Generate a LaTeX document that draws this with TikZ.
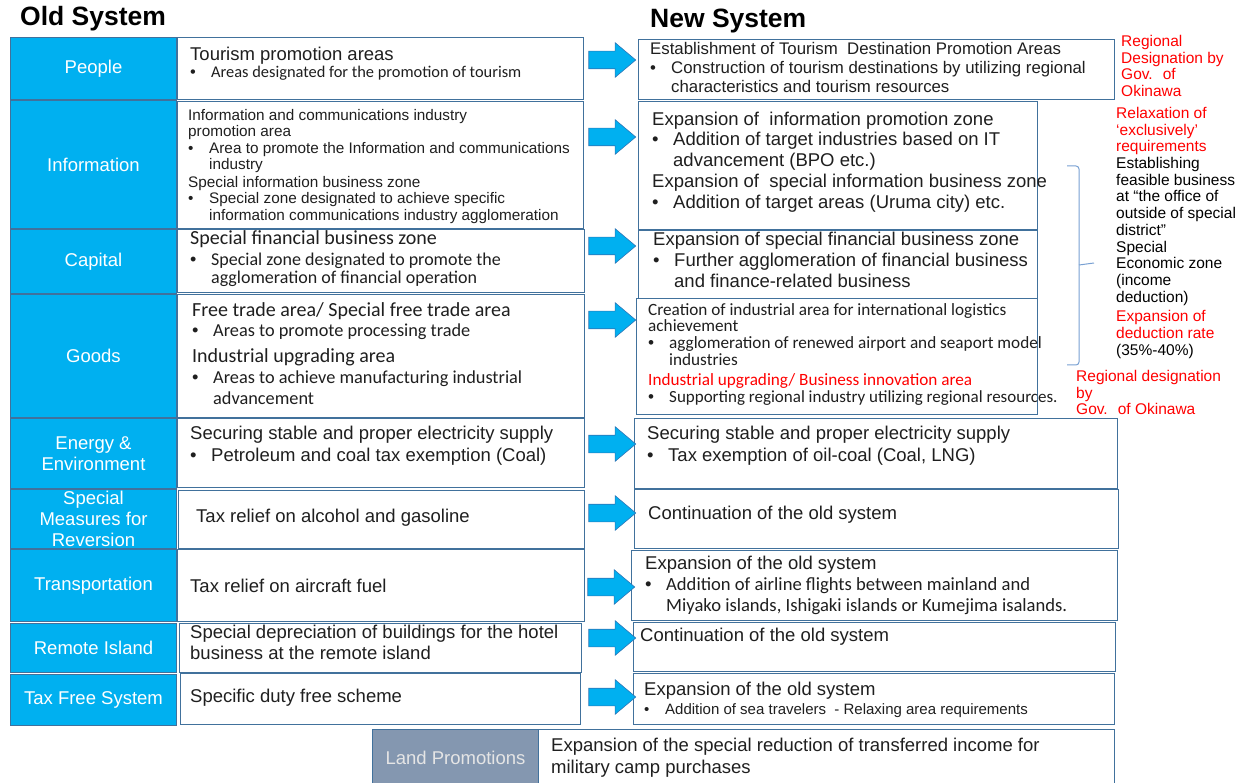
\documentclass[tikz,border=0pt]{standalone}
\usepackage{fontspec}
\setmainfont{Liberation Sans}
\newfontfamily\calfont{Carlito}
\newfontfamily\arialfont{Liberation Sans}
\usetikzlibrary{shapes.arrows}

\definecolor{catblue}{RGB}{0,176,240}
\definecolor{boxline}{RGB}{65,113,156}
\definecolor{arrowline}{RGB}{46,117,182}
\definecolor{landgray}{RGB}{132,151,176}
\definecolor{notered}{RGB}{255,0,0}
\definecolor{bracecol}{RGB}{120,160,210}

\newcommand{\fs}[2]{\fontsize{#1}{#2}\selectfont}
\newcommand{\bl}{\makebox[21pt][l]{\arialfont\textbullet}}
\newcommand{\ct}{\hspace*{21pt}}

\tikzstyle{catbox} = [draw=boxline, fill=catblue, text=white, align=center, inner sep=0pt, line width=1pt, anchor=north west, font=\fs{18.5}{21}]
\tikzstyle{landbox} = [catbox, fill=landgray, text=white!90!black]
\tikzstyle{descbox} = [draw=boxline, fill=white, inner sep=0pt, line width=1pt, anchor=north west]
\tikzstyle{desctext} = [anchor=north west, align=left, inner sep=0pt, text=black!88]
\tikzstyle{bigarrow} = [single arrow, draw=arrowline, fill=catblue, line width=0.6pt, inner sep=8.5pt, minimum height=47pt, single arrow head extend=8.5pt, single arrow tip angle=80]
\tikzstyle{note} = [anchor=north west, align=left, inner sep=0pt, font=\fs{15.5}{16.7}]

\begin{document}
\begin{tikzpicture}[x=1pt, y=-1pt]
    \useasboundingbox (0,0) rectangle (1245,783);
    \clip (0,0) rectangle (1245,783);

    % Titles
    \node[anchor=west, inner sep=0pt, font=\bfseries\fs{26.5}{30}] (OT) at (20,19) {Old System};
    \node[anchor=west, inner sep=0pt, font=\bfseries\fs{26.5}{30}] (NT) at (650,21) {New System};

    % Category boxes
    \node[catbox, minimum width=166pt, minimum height=62pt] (P) at (10,37) {People};
    \node[catbox, minimum width=166pt, minimum height=128pt] (I) at (10,100) {Information};
    \node[catbox, minimum width=166pt, minimum height=64pt] (C) at (10,229) {Capital};
    \node[catbox, minimum width=166pt, minimum height=123pt] (G) at (10,294) {Goods};
    \node[catbox, minimum width=166pt, minimum height=70pt] (E) at (10,418) {Energy \&\\ Environment};
    \node[catbox, minimum width=166pt, minimum height=59pt] (R) at (10,489) {Special\\ Measures for\\ Reversion};
    \node[catbox, minimum width=166pt, minimum height=72pt] (T) at (10,549) {Transportation};
    \node[catbox, minimum width=166pt, minimum height=49pt] (RI) at (10,623) {Remote Island};
    \node[catbox, minimum width=166pt, minimum height=51pt] (TF) at (10,674) {Tax Free System};
    \node[landbox, minimum width=166pt, minimum height=56pt] (L) at (372,729) {Land Promotions};

    % Old system boxes
    \node[descbox, minimum width=406pt, minimum height=62pt] (PO) at (177,37) {};
    \node[descbox, minimum width=406pt, minimum height=127pt] (IO) at (177,101) {};
    \node[descbox, minimum width=407pt, minimum height=63pt] (CO) at (177,229) {};
    \node[descbox, minimum width=407pt, minimum height=123pt] (GO) at (177,294) {};
    \node[descbox, minimum width=407pt, minimum height=69pt] (EO) at (177,418) {};
    \node[descbox, minimum width=406pt, minimum height=58pt] (RO) at (178,490) {};
    \node[descbox, minimum width=407pt, minimum height=72pt] (TO) at (177,549) {};
    \node[descbox, minimum width=402pt, minimum height=49pt] (RIO) at (179,623) {};
    \node[descbox, minimum width=400pt, minimum height=51pt] (TFO) at (180,673) {};
    \node[descbox, minimum width=576pt, minimum height=62pt] (LD) at (538,729) {};

    % New system boxes
    \node[descbox, minimum width=476pt, minimum height=60pt] (PN) at (638,39) {};
    \node[descbox, minimum width=399pt, minimum height=128pt] (IN) at (638,101) {};
    \node[descbox, minimum width=399pt, minimum height=68pt] (CN) at (638,230) {};
    \node[descbox, minimum width=401pt, minimum height=116pt] (GN) at (636,298) {};
    \node[descbox, minimum width=483pt, minimum height=70pt] (EN) at (634,418) {};
    \node[descbox, minimum width=484pt, minimum height=59pt] (RN) at (634,489) {};
    \node[descbox, minimum width=486pt, minimum height=70pt] (TN) at (631,550) {};
    \node[descbox, minimum width=482pt, minimum height=49pt] (RIN) at (633,622) {};
    \node[descbox, minimum width=481pt, minimum height=51pt] (TFN) at (633,673) {};

    % Arrows
    \node[bigarrow] (A1) at (607,60) {};
    \node[bigarrow] (A2) at (607,137) {};
    \node[bigarrow] (A3) at (607,246) {};
    \node[bigarrow] (A4) at (607,320) {};
    \node[bigarrow] (A5) at (607,444) {};
    \node[bigarrow] (A6) at (607,513) {};
    \node[bigarrow] (A7) at (606,587) {};
    \node[bigarrow] (A8) at (607,638) {};
    \node[bigarrow] (A9) at (607,697) {};

    % Old system texts
    \node[desctext, font=\fs{18.5}{17}] (POt) at (190,46.5) {Tourism promotion areas\\
      {\calfont\fs{16.4}{17}\bl Areas designated for the promotion of tourism}};
    \node[desctext, font=\fs{15.3}{16.4}] (IOt) at (188,109) {Information and communications industry\\
      promotion area\\
      \bl Area to promote the Information and communications\\
      \ct industry\\[1.5pt]
      Special information business zone\\
      \bl Special zone designated to achieve specific\\
      \ct information communications industry agglomeration};
    \node[desctext, font=\calfont\fs{18}{18}] (COt) at (190,230.5) {{\fs{20}{18}Special financial business zone}\\[3.4pt]
      \bl Special zone designated to promote the\\
      \ct agglomeration of financial operation};
    \node[desctext, font=\calfont\fs{18.3}{21}] (GOt) at (192,302.5) {{\fs{20}{21}Free trade area/ Special free trade area}\\[-0.6pt]
      \bl Areas to promote processing trade\\[4.6pt]
      {\fs{20}{21}Industrial upgrading area}\\[0.4pt]
      \bl Areas to achieve manufacturing industrial\\
      \ct advancement};
    \node[desctext, font=\fs{18.5}{22}] (EOt) at (190,425.5) {Securing stable and proper electricity supply\\
      \bl Petroleum and coal tax exemption (Coal)};
    \node[desctext, font=\fs{18.5}{21}] (ROt) at (196,508.5) {Tax relief on alcohol and gasoline};
    \node[desctext, font=\fs{18.5}{21}] (TOt) at (190,578.5) {Tax relief on aircraft fuel};
    \node[desctext, font=\fs{18.5}{21}] (RIOt) at (190,624.5) {Special depreciation of buildings for the hotel\\
      business at the remote island};
    \node[desctext, font=\fs{18.5}{21}] (TFOt) at (190,688.5) {Specific duty free scheme};
    \node[desctext, font=\fs{18.5}{22}] (LDt) at (551,737.5) {Expansion of the special reduction of transferred income for\\
      military camp purchases};

    % New system texts
    \node[desctext, font=\fs{16.8}{19}] (PNt) at (650,42.5) {Establishment of Tourism~ Destination Promotion Areas\\
      \bl Construction of tourism destinations by utilizing regional\\
      \ct characteristics and tourism resources};
    \node[desctext, font=\fs{18.5}{20.5}] (INt) at (652,111.5) {Expansion of~ information promotion zone\\
      \bl Addition of target industries based on IT\\
      \ct advancement (BPO etc.)\\[1pt]
      Expansion of~ special information business zone\\
      \bl Addition of target areas (Uruma city) etc.};
    \node[desctext, font=\fs{18.5}{21}] (CNt) at (653,231.5) {Expansion of special financial business zone\\
      \bl Further agglomeration of financial business\\
      \ct and finance-related business};
    \node[desctext, font=\calfont\fs{17.2}{16.7}] (GNt) at (648,303) {Creation of industrial area for international logistics\\
      achievement\\
      \bl agglomeration of renewed airport and seaport model\\
      \ct industries\\[4pt]
      {\color{notered}Industrial upgrading/ Business innovation area}\\
      {\fs{17}{16.7}\bl Supporting regional industry utilizing regional resources.}};
    \node[desctext, font=\fs{18.5}{22}] (ENt) at (647,425.5) {Securing stable and proper electricity supply\\
      \bl Tax exemption of oil-coal (Coal, LNG)};
    \node[desctext, font=\fs{18.5}{21}] (RNt) at (648,505.5) {Continuation of the old system};
    \node[desctext, font=\fs{18.5}{21}] (TNt) at (645,555.5) {Expansion of the old system\\
      {\calfont\fs{18.6}{21}\bl Addition of airline flights between mainland and}\\
      {\calfont\fs{18.6}{21}\ct Miyako islands, Ishigaki islands or Kumejima isalands.}};
    \node[desctext, font=\fs{18.5}{21}] (RINt) at (640,627.5) {Continuation of the old system};
    \node[desctext, font=\fs{18.5}{19}] (TFNt) at (644,681.5) {Expansion of the old system\\
      {\fs{15}{19}\bl Addition of sea travelers~ - Relaxing area requirements}};

    % Notes on the right
    \node[note, text=notered] (N1) at (1121,35) {Regional\\ Designation by\\ Gov.~ of\\ Okinawa};
    \node[note] (N2) at (1116,107) {{\color{notered}Relaxation of}\\
      {\color{notered}‘exclusively’}\\
      {\color{notered}requirements}\\
      Establishing\\ feasible business\\ at “the office of\\ outside of special\\ district”\\
      Special\\ Economic zone\\ (income\\ deduction)\\[3pt]
      {\color{notered}Expansion of}\\
      {\color{notered}deduction rate}\\
      (35\%-40\%)};
    \node[note, text=notered] (N3) at (1076,370) {Regional designation\\ by\\ Gov.~ of Okinawa};

    % Bracket
    \draw[bracecol, line width=1pt, rounded corners=3pt] (1067,166) -- (1079,166) -- (1079,365) -- (1067,365);
    \draw[bracecol, line width=1pt] (1079,265) -- (1094,263);
\end{tikzpicture}
\end{document}
